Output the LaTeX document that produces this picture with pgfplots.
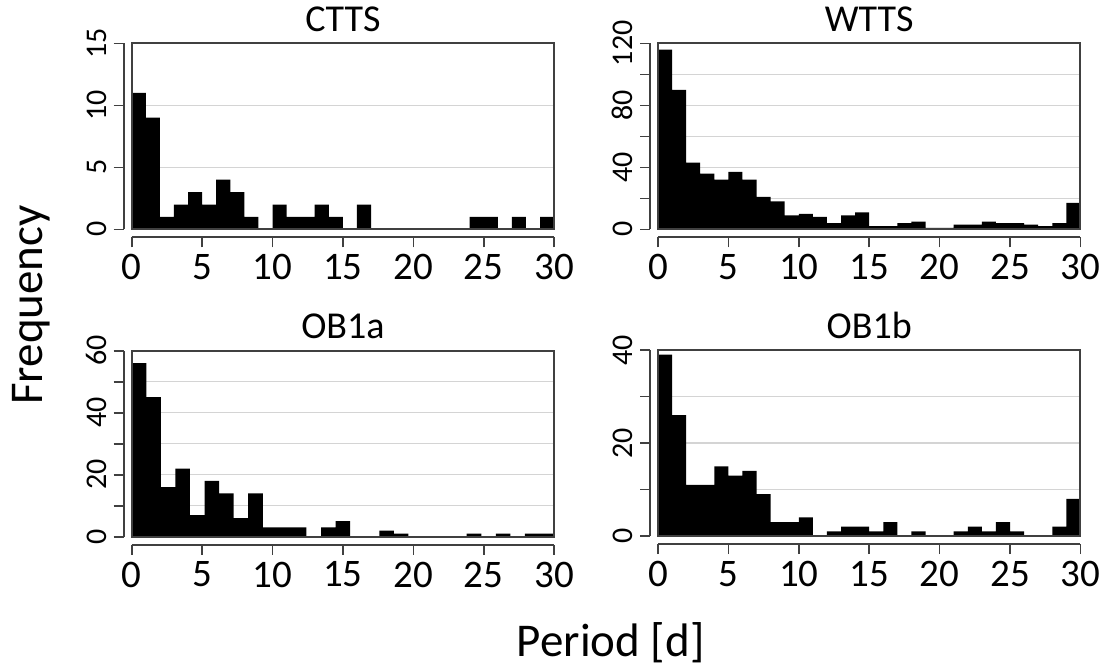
\documentclass[border=0pt]{standalone}
\usepackage{pgfplots}
\pgfplotsset{compat=1.18}
\usepackage{fontspec}
\setmainfont{Carlito}
\definecolor{axgray}{HTML}{404040}
\definecolor{gridgray}{HTML}{D4D4D4}
\pgfplotsset{
  histo/.style={
    scale only axis, width=211.2pt, height=93pt,
    axis lines=left, axis line style={-, draw=axgray, line width=1pt},
    axis x line shift=4pt, axis y line shift=4pt,
    tick align=outside, tick style={draw=axgray, line width=0.8pt},
    major tick length=5pt,
    xmin=0, xmax=30, ymin=0, enlargelimits=false,
    xtick={0,5,...,30},
    ymajorgrids, grid style={gridgray, line width=0.6pt},
    /pgf/number format/assume math mode=true,
    xticklabel style={font=\fontsize{19.5}{20}\selectfont},
    yticklabel style={font=\fontsize{15}{16}\selectfont, rotate=90, anchor=south},
    title style={font=\fontsize{19}{21}\selectfont, at={(0.5,1)}, anchor=base},
    clip=false,
    anchor=south west,
  },
  bars/.style={ybar interval, fill=black, draw=none},
}
\newcommand{\boxit}{\draw[axgray, line width=1pt] (rel axis cs:0,0) rectangle (rel axis cs:1,1);}
\begin{document}
\begin{tikzpicture}
\path[use as bounding box] (0,0) rectangle (551pt,333pt);
% CTTS
\begin{axis}[histo, at={(65.85pt,218.35pt)}, ymax=15, ytick={0,5,10,15}, title={CTTS}]
\addplot[bars] coordinates {
(0,11) (1,9) (2,1) (3,2) (4,3) (5,2) (6,4) (7,3) (8,1) (9,0)
(10,2) (11,1) (12,1) (13,2) (14,1) (15,0) (16,2) (17,0) (18,0) (19,0)
(20,0) (21,0) (22,0) (23,0) (24,1) (25,1) (26,0) (27,1) (28,0) (29,1) (30,1)};
\boxit
\end{axis}
% WTTS
\begin{axis}[histo, at={(329pt,218.35pt)}, ymax=120, ytick={0,20,...,120}, yticklabels={0,,40,,80,,120}, title={WTTS}]
\addplot[bars] coordinates {
(0,116) (1,90) (2,43) (3,36) (4,32) (5,37) (6,32) (7,21) (8,18) (9,9)
(10,10) (11,8) (12,4) (13,9) (14,11) (15,2) (16,2) (17,4) (18,5) (19,1)
(20,1) (21,3) (22,3) (23,5) (24,4) (25,4) (26,3) (27,2) (28,4) (29,17) (30,17)};
\boxit
\end{axis}
% OB1a
\begin{axis}[histo, at={(65.85pt,64.65pt)}, ymax=60, ytick={0,10,...,60}, yticklabels={0,,20,,40,,60}, title={OB1a}]
\addplot[bars] coordinates {
(0,56) (1.0345,45) (2.0690,16) (3.1034,22) (4.1379,7) (5.1724,18) (6.2069,14) (7.2414,6) (8.2759,14) (9.3103,3)
(10.3448,3) (11.3793,3) (12.4138,0) (13.4483,3) (14.4828,5) (15.5172,0) (16.5517,0) (17.5862,2) (18.6207,1) (19.6552,0)
(20.6897,0) (21.7241,0) (22.7586,0) (23.7931,1) (24.8276,0) (25.8621,1) (26.8966,0) (27.9310,1) (28.9655,1) (30,1)};
\boxit
\end{axis}
% OB1b
\begin{axis}[histo, at={(329pt,65pt)}, ymax=40, ytick={0,10,...,40}, yticklabels={0,,20,,40}, title={OB1b}]
\addplot[bars] coordinates {
(0,39) (1,26) (2,11) (3,11) (4,15) (5,13) (6,14) (7,9) (8,3) (9,3)
(10,4) (11,0) (12,1) (13,2) (14,2) (15,1) (16,3) (17,0) (18,1) (19,0)
(20,0) (21,1) (22,2) (23,1) (24,3) (25,1) (26,0) (27,0) (28,2) (29,8) (30,8)};
\boxit
\end{axis}
\node[rotate=90, anchor=base, font=\fontsize{23.5}{26}\selectfont] at (21.35pt,180.5pt) {Frequency};
\node[anchor=base, font=\fontsize{23.5}{26}\selectfont] at (305.35pt,5pt) {Period [d]};
\end{tikzpicture}
\end{document}
